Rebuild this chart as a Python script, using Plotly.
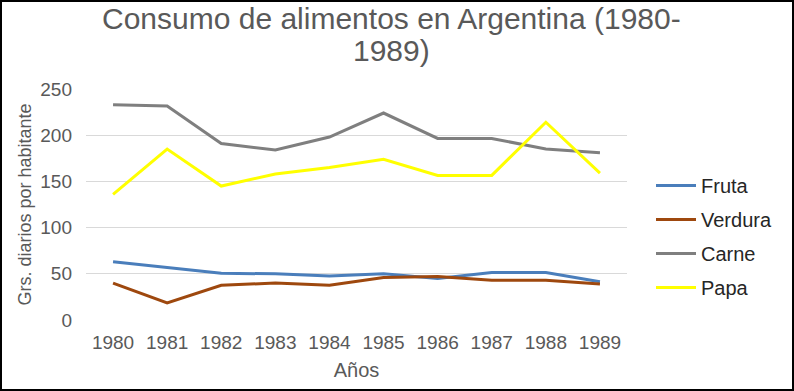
import plotly.graph_objects as go

years = ["1980", "1981", "1982", "1983", "1984", "1985", "1986", "1987", "1988", "1989"]
fruta = [63, 56.5, 50.5, 50, 47.5, 50, 45, 51.5, 51.5, 41.5]
verdura = [40, 18.5, 37.5, 40, 37.5, 46, 47, 43, 43, 39]
carne = [233, 231.5, 191, 184, 198, 224, 196.5, 196.5, 185, 181]
papa = [136, 185, 145, 158, 165, 174, 156.5, 156.5, 214, 159]

title_lines = ["Consumo de alimentos en Argentina (1980-", "1989)"]

series = [
    ("Fruta", fruta, "#4a7ebb"),
    ("Verdura", verdura, "#9e480e"),
    ("Carne", carne, "#7f7f7f"),
    ("Papa", papa, "#ffff00"),
]

fig = go.Figure()
for name, vals, col in series:
    fig.add_trace(go.Scatter(x=years, y=vals, name=name, mode="lines", legendgroup=name,
                             line=dict(color=col, width=3)))

W, H = 794, 391
ml, mr, mt, mb = 86, 167, 89, 71
pw, ph = W - ml - mr, H - mt - mb

fig.update_layout(
    width=W, height=H,
    margin=dict(l=ml, r=mr, t=mt, b=mb, autoexpand=False),
    paper_bgcolor="white", plot_bgcolor="white",
    font=dict(family="Liberation Sans, Arial, sans-serif", color="#595959", size=19),
    xaxis=dict(showgrid=False, showline=False, ticks="", tickfont=dict(size=19),
               range=[-0.5, 9.5], ticklabelstandoff=9,
               title=dict(text="Años", font=dict(size=20), standoff=10)),
    yaxis=dict(range=[0, 250], dtick=50, showgrid=True, gridcolor="#d9d9d9",
               gridwidth=1, zeroline=False, showline=False, tickfont=dict(size=19),
               ticklabelstandoff=13,
               title=dict(text="Grs. diarios por habitante", font=dict(size=18), standoff=3)),
    legend=dict(x=(651 - ml) / pw, xanchor="left", y=1 - (166 - mt) / ph, yanchor="top",
                font=dict(size=20, color="#262626"), tracegroupgap=5,
                itemwidth=40, bgcolor="rgba(0,0,0,0)"),
    showlegend=True,
)

for line, yc in zip(title_lines, [18, 50]):
    fig.add_annotation(text=line, xref="paper", yref="paper",
                       x=(391 - ml) / pw, y=1 + (mt - yc) / ph,
                       xanchor="center", yanchor="middle",
                       showarrow=False, font=dict(size=30, color="#595959"))

fig.add_shape(type="rect", xref="paper", yref="paper",
              x0=(-ml + 1) / pw, x1=(pw + mr - 1) / pw,
              y0=(-mb + 1) / ph, y1=(ph + mt - 1) / ph,
              line=dict(color="black", width=2), fillcolor="rgba(0,0,0,0)", layer="above")

fig.write_html("out.html", config={"displayModeBar": False},
               post_script="document.body.style.margin='0';document.body.style.padding='0';")
